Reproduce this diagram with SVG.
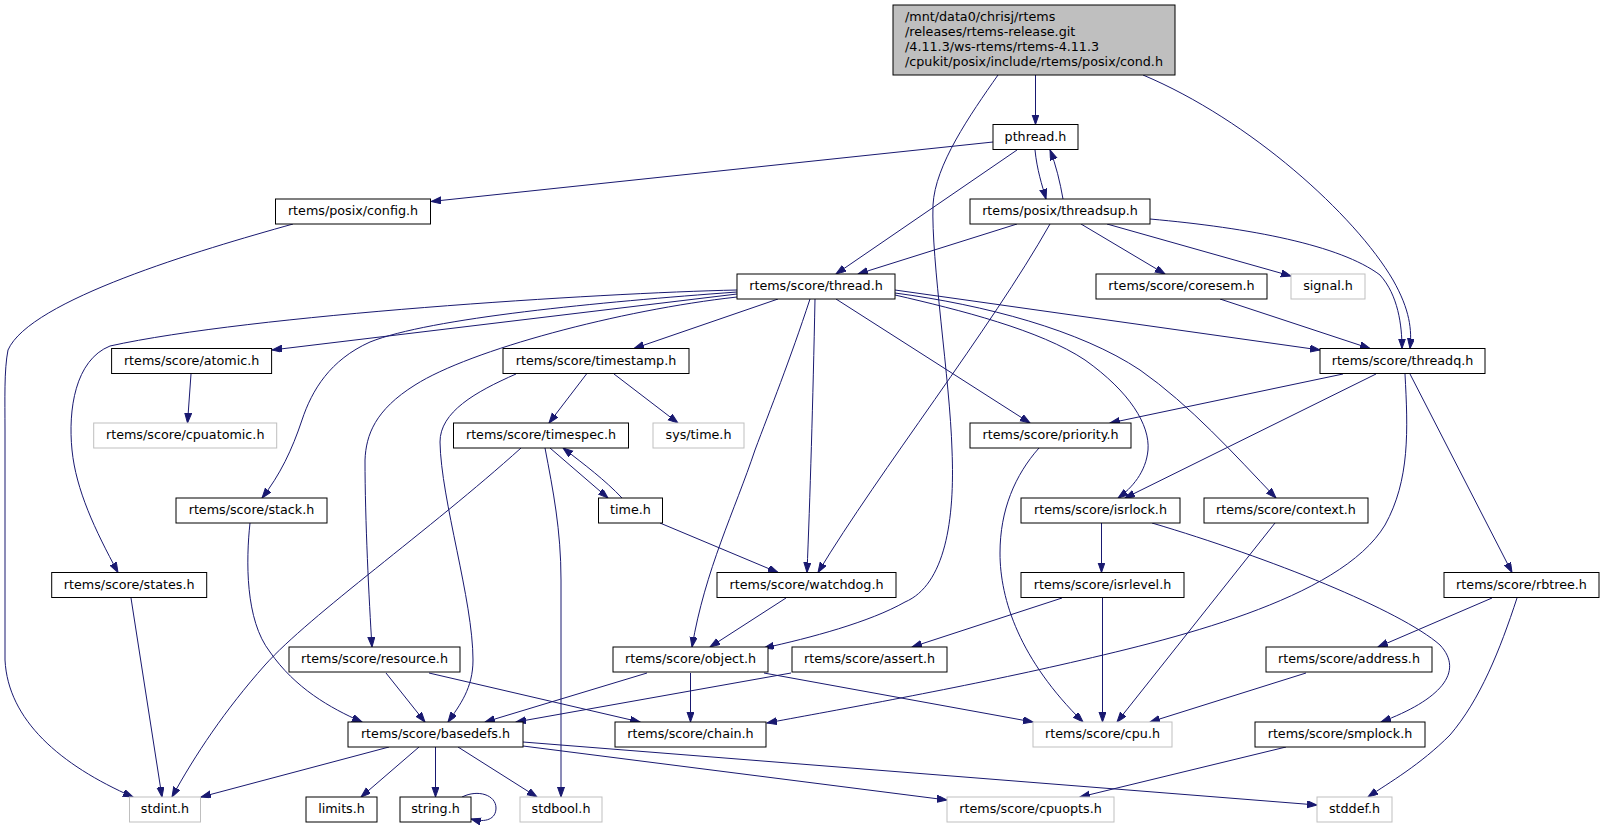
<svg xmlns="http://www.w3.org/2000/svg" width="1604" height="829" viewBox="0 0 1604 829">
<style>
text{font-family:"DejaVu Sans","Liberation Sans",sans-serif;font-size:12.73px;fill:#000}
.n rect{fill:#fff;stroke:#000;stroke-width:1}
.g rect{fill:#fff;stroke:#bfbfbf;stroke-width:1}
.r rect{fill:#bfbfbf;stroke:#000;stroke-width:1}
.n text,.g text{text-anchor:middle}
#edges path{fill:none;stroke:#191970;stroke-width:1;marker-end:url(#ah)}
</style>
<defs>
<marker id="ah" markerUnits="userSpaceOnUse" markerWidth="11" markerHeight="8" refX="10" refY="3.5" orient="auto">
<path d="M0,0 L10,3.5 L0,7 z" fill="#191970" stroke="#191970" stroke-width="1"/>
</marker>
</defs>
<rect width="1604" height="829" fill="#fff"/>
<g id="edges">
<path d="M1035.5,75 L1035.5,124.5"/>
<path d="M998,75 C970,115 935,165 933,205 C931,260 950,380 952,450 C955,520 945,585 905,602 C870,622 810,638 764,648"/>
<path d="M1143,75 C1250,120 1355,215 1393,280 C1410,310 1412,330 1410,348.5"/>
<path d="M993,142 L431,201.5"/>
<path d="M1017,150 L836,274"/>
<path d="M1035,150 C1037,170 1042,185 1046,199"/>
<path d="M1063,199 C1060,182 1056,165 1050,150"/>
<path d="M1017,224 L858,274"/>
<path d="M1050,224 C990,330 880,470 818,572.5"/>
<path d="M1081,224 L1165,274"/>
<path d="M1107,224 L1291,276"/>
<path d="M1150,219 C1250,228 1340,245 1380,275 C1398,295 1402,325 1402,348.5"/>
<path d="M293,224 C200,250 30,300 8,350 C4,370 5,400 5,430 L5,660 C8,720 60,765 133,797"/>
<path d="M737,290 C600,293 250,315 110,346 C75,360 68,410 72,450 C76,490 95,530 118,572.5"/>
<path d="M737,292 C600,302 430,318 370,342 C330,360 312,390 302,420 C292,450 280,475 262,498"/>
<path d="M737,294 L272,350"/>
<path d="M737,297 C620,310 470,350 415,385 C375,410 366,435 365,460 C365,520 369,600 372,647"/>
<path d="M778,299 L634,348.5"/>
<path d="M810,299 C790,360 770,410 755,450 C735,510 705,570 692,647"/>
<path d="M815,299 C813,400 810,500 807,572.5"/>
<path d="M836,299 L1030,423"/>
<path d="M895,295 C960,310 1040,330 1085,360 C1130,392 1150,425 1148,450 C1146,472 1132,488 1118,498"/>
<path d="M895,293 C985,305 1080,330 1140,370 C1190,405 1235,455 1276,498"/>
<path d="M895,290 L1320,350"/>
<path d="M1220,299 L1370,348.5"/>
<path d="M191,374 L187.5,423"/>
<path d="M586.5,374 L549,423"/>
<path d="M614,374 L678,423"/>
<path d="M516,374 C475,392 440,412 440,442 C441,500 473,600 473,660 C473,688 460,705 448,722"/>
<path d="M550,448 L608,498"/>
<path d="M622,498 C605,480 585,465 563,448"/>
<path d="M521,448 C430,530 310,615 265,665 C225,710 195,755 172,797"/>
<path d="M545,448 C553,490 561,530 561,580 L561,797"/>
<path d="M660,523 L778,572.5"/>
<path d="M786,598 L710,647"/>
<path d="M1343,374 L1110,423"/>
<path d="M1376,374 L1125,498"/>
<path d="M1405,374 C1408,430 1410,480 1385,525 C1340,600 1170,640 1060,665 C950,690 820,713 767,723"/>
<path d="M1410,374 L1512,572.5"/>
<path d="M1039,448 C1015,475 1000,510 1000,553 C1000,600 1020,660 1083,722"/>
<path d="M1101.5,523 L1101.5,572.5"/>
<path d="M1152,523 C1270,558 1400,610 1440,645 C1465,672 1440,700 1381,722"/>
<path d="M1275,523 L1117,722"/>
<path d="M1102.5,598 L1102.5,722"/>
<path d="M1062,598 L912,647"/>
<path d="M1492,598 L1378,647"/>
<path d="M1517,598 C1500,650 1480,700 1450,735 C1420,765 1390,782 1368,797"/>
<path d="M1306,673 L1150,722"/>
<path d="M250,523 C246,560 245,620 270,652 C295,688 330,708 362,722"/>
<path d="M131,598 L162,797"/>
<path d="M386,673 L425,722"/>
<path d="M429,673 L640,722"/>
<path d="M647,673 L485,722"/>
<path d="M791,673 L516,722"/>
<path d="M690.5,673 L690.5,722"/>
<path d="M764,673 L1033,722"/>
<path d="M1286,747 L1080,797"/>
<path d="M523,742 L1317,805"/>
<path d="M523,746 L947,800"/>
<path d="M389,747 L201,797"/>
<path d="M419,747 L361,797"/>
<path d="M435.5,747 L435.5,797"/>
<path d="M458,747 L537,797"/>
<path d="M462,797 C478,789 496,795 496,808 C496,819 486,823 471,819"/>
</g>
<g id="root" class="r"><rect x="893" y="5" width="282" height="70"/>
<text x="905" y="21">/mnt/data0/chrisj/rtems</text>
<text x="905" y="36">/releases/rtems-release.git</text>
<text x="905" y="51">/4.11.3/ws-rtems/rtems-4.11.3</text>
<text x="905" y="66">/cpukit/posix/include/rtems/posix/cond.h</text></g>
<g id="pthread" class="n"><rect x="993" y="124.5" width="85" height="25"/><text x="1035.5" y="140.5">pthread.h</text></g>
<g id="config" class="n"><rect x="275.5" y="199" width="155" height="25"/><text x="353" y="215">rtems/posix/config.h</text></g>
<g id="threadsup" class="n"><rect x="970" y="199" width="180" height="25"/><text x="1060" y="215">rtems/posix/threadsup.h</text></g>
<g id="thread" class="n"><rect x="737" y="274" width="158" height="25"/><text x="816" y="290">rtems/score/thread.h</text></g>
<g id="coresem" class="n"><rect x="1096" y="274" width="171" height="25"/><text x="1181.5" y="290">rtems/score/coresem.h</text></g>
<g id="signal" class="g"><rect x="1291" y="274" width="74" height="25"/><text x="1328" y="290">signal.h</text></g>
<g id="atomic" class="n"><rect x="111.6" y="348.5" width="160" height="25"/><text x="191.6" y="364.5">rtems/score/atomic.h</text></g>
<g id="timestamp" class="n"><rect x="503" y="348.5" width="186" height="25"/><text x="596" y="364.5">rtems/score/timestamp.h</text></g>
<g id="threadq" class="n"><rect x="1320" y="348.5" width="165" height="25"/><text x="1402.5" y="364.5">rtems/score/threadq.h</text></g>
<g id="cpuatomic" class="g"><rect x="93.7" y="423" width="183" height="25"/><text x="185.2" y="439">rtems/score/cpuatomic.h</text></g>
<g id="timespec" class="n"><rect x="453.5" y="423" width="175" height="25"/><text x="541" y="439">rtems/score/timespec.h</text></g>
<g id="systime" class="g"><rect x="653" y="423" width="91" height="25"/><text x="698.5" y="439">sys/time.h</text></g>
<g id="priority" class="n"><rect x="970" y="423" width="161" height="25"/><text x="1050.5" y="439">rtems/score/priority.h</text></g>
<g id="stack" class="n"><rect x="176" y="498" width="151" height="25"/><text x="251.5" y="514">rtems/score/stack.h</text></g>
<g id="time" class="n"><rect x="598.5" y="498" width="64" height="25"/><text x="630.5" y="514">time.h</text></g>
<g id="isrlock" class="n"><rect x="1021" y="498" width="159" height="25"/><text x="1100.5" y="514">rtems/score/isrlock.h</text></g>
<g id="context" class="n"><rect x="1204" y="498" width="164" height="25"/><text x="1286" y="514">rtems/score/context.h</text></g>
<g id="states" class="n"><rect x="51.7" y="572.5" width="155" height="25"/><text x="129.2" y="588.5">rtems/score/states.h</text></g>
<g id="watchdog" class="n"><rect x="717" y="572.5" width="179" height="25"/><text x="806.5" y="588.5">rtems/score/watchdog.h</text></g>
<g id="isrlevel" class="n"><rect x="1021" y="572.5" width="163" height="25"/><text x="1102.5" y="588.5">rtems/score/isrlevel.h</text></g>
<g id="rbtree" class="n"><rect x="1444" y="572.5" width="155" height="25"/><text x="1521.5" y="588.5">rtems/score/rbtree.h</text></g>
<g id="resource" class="n"><rect x="289" y="647" width="171" height="25"/><text x="374.5" y="663">rtems/score/resource.h</text></g>
<g id="object" class="n"><rect x="613" y="647" width="155" height="25"/><text x="690.5" y="663">rtems/score/object.h</text></g>
<g id="assert" class="n"><rect x="792" y="647" width="155" height="25"/><text x="869.5" y="663">rtems/score/assert.h</text></g>
<g id="address" class="n"><rect x="1266" y="647" width="166" height="25"/><text x="1349" y="663">rtems/score/address.h</text></g>
<g id="basedefs" class="n"><rect x="348" y="722" width="175" height="25"/><text x="435.5" y="738">rtems/score/basedefs.h</text></g>
<g id="chain" class="n"><rect x="615" y="722" width="151" height="25"/><text x="690.5" y="738">rtems/score/chain.h</text></g>
<g id="cpu" class="g"><rect x="1033" y="722" width="139" height="25"/><text x="1102.5" y="738">rtems/score/cpu.h</text></g>
<g id="smplock" class="n"><rect x="1255" y="722" width="170" height="25"/><text x="1340" y="738">rtems/score/smplock.h</text></g>
<g id="stdint" class="g"><rect x="129.5" y="797" width="71" height="25"/><text x="165" y="813">stdint.h</text></g>
<g id="limits" class="n"><rect x="306" y="797" width="71" height="25"/><text x="341.5" y="813">limits.h</text></g>
<g id="string" class="n"><rect x="400" y="797" width="71" height="25"/><text x="435.5" y="813">string.h</text></g>
<g id="stdbool" class="g"><rect x="520" y="797" width="82" height="25"/><text x="561" y="813">stdbool.h</text></g>
<g id="cpuopts" class="g"><rect x="947" y="797" width="167" height="25"/><text x="1030.5" y="813">rtems/score/cpuopts.h</text></g>
<g id="stddef" class="g"><rect x="1317" y="797" width="75" height="25"/><text x="1354.5" y="813">stddef.h</text></g>
</svg>
